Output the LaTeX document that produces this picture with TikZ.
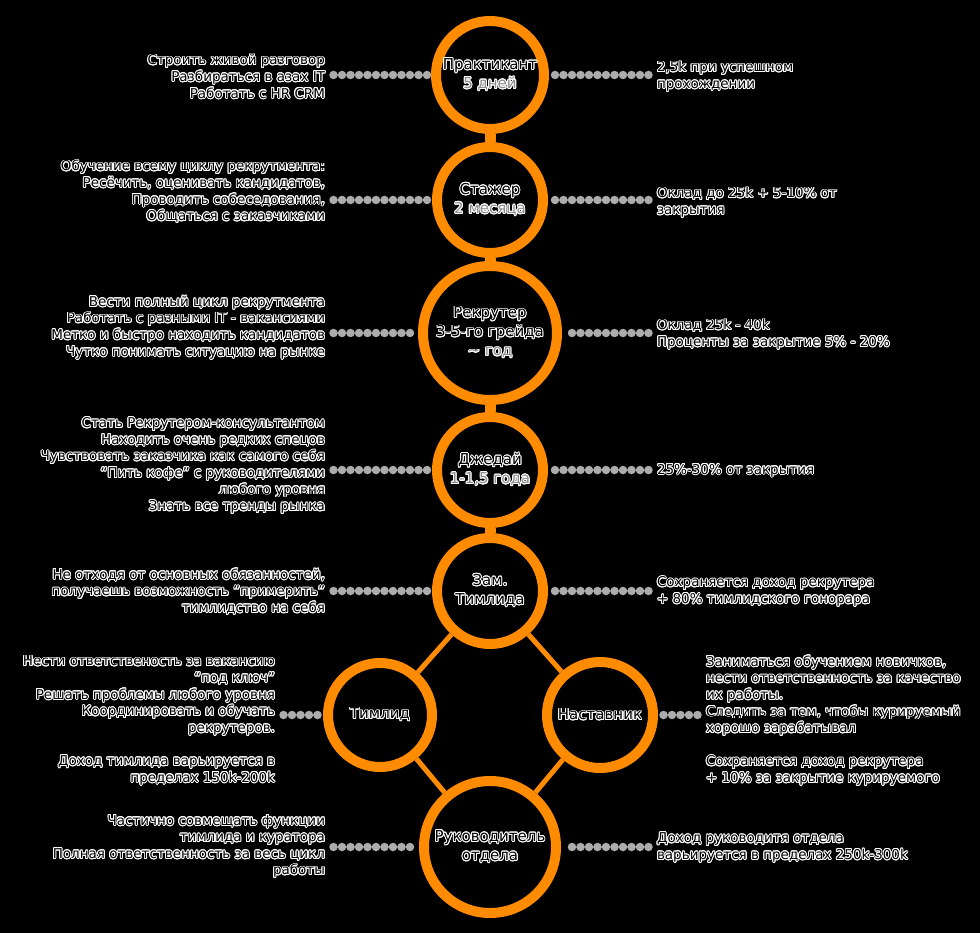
\documentclass[tikz,border=0pt]{standalone}
\usepackage{fontspec}
\setmainfont{DejaVu Sans}
\usepackage[copies]{contour}
\contourlength{0.9pt}
\contournumber{16}
\definecolor{ringc}{RGB}{255,140,0}
\definecolor{dotc}{RGB}{172,172,172}
\definecolor{subc}{RGB}{140,140,140}
% one outlined line of text
\newcommand{\wl}[1]{\contour{white}{#1}}
% grey outlined line (stage duration)
\newcommand{\gl}[1]{\contour{white}{\textcolor{subc}{#1}}}
\begin{document}
\begin{tikzpicture}[x=1pt,y=-1pt,
  stage/.style={circle, draw=ringc, line width=10pt, inner sep=0pt, align=center,
    text=black, font=\fontsize{15}{19}\selectfont},
  txtl/.style={anchor=east, align=right, inner sep=0pt, outer sep=4pt, text=black,
    font=\fontsize{13.5}{16.6}\selectfont},
  txtr/.style={anchor=west, align=left, inner sep=0pt, outer sep=4pt, text=black,
    font=\fontsize{13.5}{16.6}\selectfont},
  dotline/.style={draw=dotc, line width=8.5pt, line cap=round,
    dash pattern=on 0pt off 8.5pt, shorten <=4.5pt, shorten >=4pt},
  neck/.style={draw=ringc, line width=11pt},
  link/.style={draw=ringc, line width=5pt}]

\fill[black] (0,0) rectangle (980,933);
\useasboundingbox (0,0) rectangle (980,933);

% career stages
\node[stage, minimum size=108pt] (c1) at (490,75) {\wl{Практикант}\\\gl{5 дней}};
\node[stage, minimum size=106pt] (c2) at (490,200) {\wl{Стажер}\\\gl{2 месяца}};
\node[stage, minimum size=134pt] (c3) at (490,333) {\wl{Рекрутер}\\\wl{3-5-го грейда}\\\gl{\textasciitilde\ год}};
\node[stage, minimum size=106pt] (c4) at (490,470) {\wl{Джедай}\\\gl{1-1,5 года}};
\node[stage, minimum size=106pt] (c5) at (490,591) {\wl{Зам.}\\\wl{Тимлида}};
\node[stage, minimum size=104pt] (c6) at (380,715) {\wl{Тимлид}};
\node[stage, minimum size=106pt] (c7) at (600,715) {\wl{Наставник}};
\node[stage, minimum size=132pt] (c8) at (490,847) {\wl{Руководитель}\\\wl{отдела}};

% links between stages
\draw[neck] (c1) -- (c2);
\draw[neck] (c2) -- (c3);
\draw[neck] (c3) -- (c4);
\draw[neck] (c4) -- (c5);
\draw[link] (c5) -- (c6);
\draw[link] (c5) -- (c7);
\draw[link] (c6) -- (c8);
\draw[link] (c7) -- (c8);

% skills (left) and pay (right)
\node[txtl] (l1) at (329,77) {\wl{Строить живой разговор}\\\wl{Разбираться в азах IT}\\\wl{Работать с HR CRM}};
\node[txtr] (r1) at (653,77) {\wl{2,5k при успешном}\\\wl{прохождении}};

\node[txtl] (l2) at (329,192) {\wl{Обучение всему циклу рекрутмента:}\\\wl{Ресёчить, оценивать кандидатов,}\\\wl{Проводить собеседования,}\\\wl{Общаться с заказчиками}};
\node[txtr] (r2) at (653,203) {\wl{Оклад до 25k + 5-10\% от}\\\wl{закрытия}};

\node[txtl] (l3) at (329,328) {\wl{Вести полный цикл рекрутмента}\\\wl{Работать с разными IT - вакансиями}\\\wl{Метко и быстро находить кандидатов}\\\wl{Чутко понимать ситуацию на рынке}};
\node[txtr] (r3) at (653,335) {\wl{Оклад 25k - 40k}\\\wl{Проценты за закрытие 5\% - 20\%}};

\node[txtl] (l4) at (329,466) {\wl{Стать Рекрутером-консультантом}\\\wl{Находить очень редких спецов}\\\wl{Чувствовать заказчика как самого себя}\\\wl{“Пить кофе” с руководителями}\\\wl{любого уровня}\\\wl{Знать все тренды рынка}};
\node[txtr] (r4) at (653,471) {\wl{25\%-30\% от закрытия}};

\node[txtl] (l5) at (329,592) {\wl{Не отходя от основных обязанностей,}\\\wl{получаешь возможность "примерить"}\\\wl{тимлидство на себя}};
\node[txtr] (r5) at (653,592) {\wl{Сохраняется доход рекрутера}\\\wl{+ 80\% тимлидского гонорара}};

\node[txtl] (l6) at (279,721) {\wl{Нести ответственость за вакансию}\\\wl{“под ключ”}\\\wl{Решать проблемы любого уровня}\\\wl{Координировать и обучать}\\\wl{рекрутеров.}\\[16.6pt]\wl{Доход тимлида варьируется в}\\\wl{пределах 150k-200k}};
\node[txtr] (r7) at (702,721) {\wl{Заниматься обучением новичков,}\\\wl{нести ответственность за качество}\\\wl{их работы.}\\\wl{Следить за тем, чтобы курируемый}\\\wl{хорошо зарабатывал}\\[16.6pt]\wl{Сохраняется доход рекрутера}\\\wl{+ 10\% за закрытие курируемого}};

\node[txtl] (l8) at (329,847) {\wl{Частично совмещать функции}\\\wl{тимлида и куратора}\\\wl{Полная ответственность за весь цикл}\\\wl{работы}};
\node[txtr] (r8) at (653,848) {\wl{Доход руководитя отдела}\\\wl{варьируется в пределах 250k-300k}};

% dotted leaders
\draw[dotline] (c1.west -| l1.east) -- (c1.west);
\draw[dotline] (c1.east -| r1.west) -- (c1.east);
\draw[dotline] (c2.west -| l2.east) -- (c2.west);
\draw[dotline] (c2.east -| r2.west) -- (c2.east);
\draw[dotline] (c3.west -| l3.east) -- (c3.west);
\draw[dotline] (c3.east -| r3.west) -- (c3.east);
\draw[dotline] (c4.west -| l4.east) -- (c4.west);
\draw[dotline] (c4.east -| r4.west) -- (c4.east);
\draw[dotline] (c5.west -| l5.east) -- (c5.west);
\draw[dotline] (c5.east -| r5.west) -- (c5.east);
\draw[dotline] (c6.west -| l6.east) -- (c6.west);
\draw[dotline] (c7.east -| r7.west) -- (c7.east);
\draw[dotline] (c8.west -| l8.east) -- (c8.west);
\draw[dotline] (c8.east -| r8.west) -- (c8.east);
\end{tikzpicture}
\end{document}
